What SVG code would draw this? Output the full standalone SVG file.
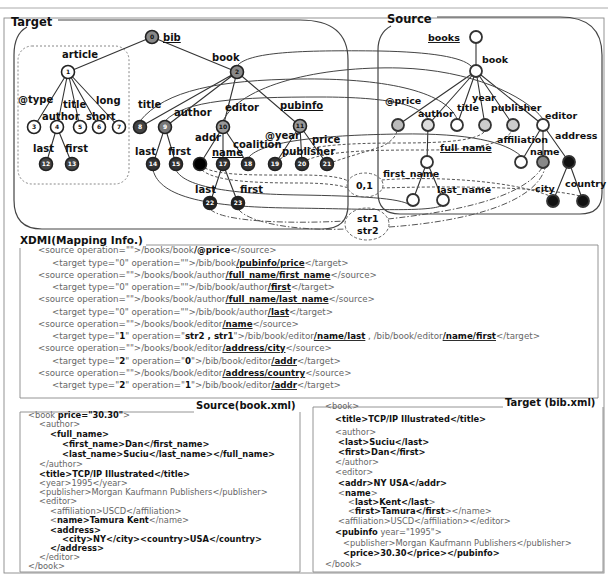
<svg xmlns="http://www.w3.org/2000/svg" width="608" height="577" viewBox="0 0 608 577">
<style>
.bg{fill:#fff}
.frame{fill:none;stroke:#888;stroke-width:0.9}
.reg{fill:none;stroke:#444;stroke-width:1.2}
.art{fill:none;stroke:#888;stroke-width:1;stroke-dasharray:2 2}
.e{stroke:#333;stroke-width:1.1;fill:none}
.c{stroke:#444;stroke-width:1;fill:none}
.d{stroke:#555;stroke-width:1;fill:none;stroke-dasharray:3 2}
.dd{stroke:#555;stroke-width:1;fill:none;stroke-dasharray:6 2 1.5 2}
.tn{stroke:#222;stroke-width:1.6}
.sn{stroke:#333;stroke-width:1.8}
.lt{font-family:"DejaVu Sans",sans-serif;font-weight:bold;font-size:10px;fill:#111}
.ls{font-family:"DejaVu Sans",sans-serif;font-weight:bold;font-size:9.5px;fill:#111}
.num{font-family:"DejaVu Sans",sans-serif;font-weight:bold;font-size:6px;text-anchor:middle}
.hd{font-family:"DejaVu Sans",sans-serif;font-weight:bold;font-size:11.5px;fill:#111}
.bh{font-family:"DejaVu Sans",sans-serif;font-weight:bold;font-size:10px;fill:#111}
.x{font-family:"DejaVu Sans",sans-serif;font-size:8.7px;fill:#666}
.y{font-family:"DejaVu Sans",sans-serif;font-size:8.3px;fill:#666}
.b{font-weight:bold;fill:#111}
.u{font-weight:bold;fill:#111;text-decoration:underline}
.ul{text-decoration:underline}
</style>
<rect class="bg" x="0" y="0" width="608" height="577"/>
<line x1="0" y1="8" x2="608" y2="8" stroke="#aaa" stroke-width="1"/>
<rect class="frame" x="4" y="18" width="600" height="555"/>

<!-- regions -->
<g id="target-region">
<path class="reg" d="M58,20 L300,20 Q348,20 348,60 L348,205 Q348,229 322,229 L42,229 Q14,229 14,200 L14,55 Q14,34 27,27"/>
<text class="hd" x="11" y="26">Target</text>
</g>
<g id="source-region">
<path class="reg" d="M437,17 L560,17 Q602,17 602,55 L602,193 Q602,214 580,214 L400,214 Q378,214 378,193 L378,50 Q378,33 391,26"/>
<text class="hd" x="387" y="23">Source</text>
</g>
<rect id="article-group" class="art" x="18" y="46" width="111" height="138" rx="14"/>

<!-- connectors -->
<g id="connectors">
<path class="e" d="M152,37 L68,72 M152,37 L237,72 M68,72 L34,127 M68,72 L57,127 M68,72 L80,127 M68,72 L99,127 M68,72 L119,127 M57,127 L46,164 M57,127 L72,164 M237,72 L140,127 M237,72 L165,127 M237,72 L223,127 M237,72 L300,126 M165,127 L153,164 M165,127 L176,164 M223,127 L200,164 M223,127 L223,164 M223,127 L248,164 M300,126 L275,164 M300,126 L302,164 M300,126 L327,164 M223,164 L210,203 M223,164 L238,203"/>
<path class="e" d="M476,37 L476,71 M476,71 L398,125 M476,71 L428,125 M476,71 L457,125 M476,71 L485,125 M476,71 L513,125 M476,71 L543,125 M428,125 L427,162 M427,162 L413,200 M427,162 L443,200 M543,125 L521,162 M543,125 L543,162 M543,125 L569,162 M569,162 L553,201 M569,162 L583,201"/>
<path class="c" d="M237,66 C248,52 300,50 380,51 C430,52 462,57 471,66"/>
<path class="c" d="M140,121 C165,90 220,80 300,79 C380,78 445,90 457,119"/>
<path class="c" d="M165,121 C185,100 240,97 320,97 C390,97 420,105 428,119"/>
<path class="c" d="M223,121 C240,85 320,66 400,68 C470,70 525,95 543,119"/>
<path class="c" d="M248,158 C262,140 330,135 400,134 C470,133 505,142 521,156"/>
<path class="c" d="M153,170 C160,198 210,207 290,208 C370,209 425,212 441,206"/>
<path class="c" d="M176,170 C185,188 235,194 300,195 C360,196 400,198 410,205"/>
<path class="d" d="M280,159 C300,146 340,143 400,143 C450,143 478,140 485,131"/>
<path class="d" d="M307,160 C330,150 380,150 430,150 C480,150 505,142 512,131"/>
<path class="d" d="M333,162 C350,156 372,150 383,146 C392,141 396,136 397,131"/>
<path class="d" d="M205,168 C220,176 260,175 300,175 C330,175 343,178 348,181"/>
<path class="d" d="M202,170 C215,182 260,183 300,183 C330,183 343,186 348,188"/>
<path class="d" d="M382,180 C430,176 510,180 550,196"/>
<path class="d" d="M382,188 C440,186 540,186 580,196"/>
<path class="dd" d="M210,209 C222,222 290,224 345,221"/>
<path class="dd" d="M238,209 C250,224 300,231 346,229"/>
<path class="dd" d="M388,219 C450,212 520,200 542,168"/>
<path class="dd" d="M389,227 C460,222 535,205 545,168"/>
</g>

<!-- operation nodes -->
<g id="op-01">
<ellipse cx="365" cy="185" rx="18" ry="12" fill="none" stroke="#666" stroke-width="1" stroke-dasharray="3 2"/>
<text class="ls" x="356" y="189">0,1</text>
</g>
<g id="op-str">
<ellipse cx="367" cy="224" rx="22" ry="16" fill="none" stroke="#666" stroke-width="1" stroke-dasharray="3 2"/>
<text class="ls" x="357" y="222">str1</text>
<text class="ls" x="357" y="234">str2</text>
</g>

<!-- target nodes -->
<g id="t0"><circle class="tn" cx="152" cy="37" r="6.5" fill="#888"/><text class="num" x="152" y="39" fill="#111">0</text><text class="lt ul" x="163" y="41">bib</text></g>
<g id="t1"><circle class="tn" cx="68" cy="72" r="6.5" fill="#fff"/><text class="num" x="68" y="74" fill="#111">1</text><text class="lt" x="62" y="58">article</text></g>
<g id="t2"><circle class="tn" cx="237" cy="72" r="6.5" fill="#888"/><text class="num" x="237" y="74" fill="#111">2</text><text class="lt" x="212" y="61">book</text></g>
<g id="t3"><circle class="tn" cx="34" cy="127" r="6.5" fill="#fff"/><text class="num" x="34" y="129" fill="#111">3</text><text class="lt" x="18" y="103">@type</text></g>
<g id="t4"><circle class="tn" cx="57" cy="127" r="6.5" fill="#fff"/><text class="num" x="57" y="129" fill="#111">4</text><text class="lt" x="42" y="120">author</text></g>
<g id="t5"><circle class="tn" cx="80" cy="127" r="6.5" fill="#fff"/><text class="num" x="80" y="129" fill="#111">5</text><text class="lt" x="63" y="108">title</text></g>
<g id="t6"><circle class="tn" cx="99" cy="127" r="6.5" fill="#fff"/><text class="num" x="99" y="129" fill="#111">6</text><text class="lt" x="86" y="120">short</text></g>
<g id="t7"><circle class="tn" cx="119" cy="127" r="6.5" fill="#fff"/><text class="num" x="119" y="129" fill="#111">7</text><text class="lt" x="96" y="104">long</text></g>
<g id="t12"><circle class="tn" cx="46" cy="164" r="6.5" fill="#444"/><text class="num" x="46" y="166" fill="#fff">12</text><text class="lt" x="33" y="152">last</text></g>
<g id="t13"><circle class="tn" cx="72" cy="164" r="6.5" fill="#444"/><text class="num" x="72" y="166" fill="#fff">13</text><text class="lt" x="65" y="152">first</text></g>
<g id="t8"><circle class="tn" cx="140" cy="127" r="6.5" fill="#444"/><text class="num" x="140" y="129" fill="#fff">8</text><text class="lt" x="138" y="108">title</text></g>
<g id="t9"><circle class="tn" cx="165" cy="127" r="6.5" fill="#777"/><text class="num" x="165" y="129" fill="#fff">9</text><text class="lt" x="174" y="116">author</text></g>
<g id="t10"><circle class="tn" cx="223" cy="127" r="6.5" fill="#999"/><text class="num" x="223" y="129" fill="#111">10</text><text class="lt" x="225" y="111">editor</text></g>
<g id="t11"><circle class="tn" cx="300" cy="126" r="6.5" fill="#999"/><text class="num" x="300" y="128" fill="#111">11</text><text class="lt ul" x="280" y="109">pubinfo</text></g>
<g id="t14"><circle class="tn" cx="153" cy="164" r="6.5" fill="#333"/><text class="num" x="153" y="166" fill="#fff">14</text><text class="lt" x="135" y="155">last</text></g>
<g id="t15"><circle class="tn" cx="176" cy="164" r="6.5" fill="#333"/><text class="num" x="176" y="166" fill="#fff">15</text><text class="lt" x="168" y="155">first</text></g>
<g id="t16"><circle class="tn" cx="200" cy="164" r="6.5" fill="#000"/><text class="lt" x="195" y="141">addr</text></g>
<g id="t17"><circle class="tn" cx="223" cy="164" r="6.5" fill="#333"/><text class="num" x="223" y="166" fill="#fff">17</text><text class="lt ul" x="212" y="156">name</text></g>
<g id="t18"><circle class="tn" cx="248" cy="164" r="6.5" fill="#333"/><text class="num" x="248" y="166" fill="#fff">18</text><text class="lt" x="233" y="148">coalition</text></g>
<g id="t19"><circle class="tn" cx="275" cy="164" r="6.5" fill="#333"/><text class="num" x="275" y="166" fill="#fff">19</text><text class="lt" x="265" y="139">@year</text></g>
<g id="t20"><circle class="tn" cx="302" cy="164" r="6.5" fill="#333"/><text class="num" x="302" y="166" fill="#fff">20</text><text class="lt" x="282" y="155">publisher</text></g>
<g id="t21"><circle class="tn" cx="327" cy="164" r="6.5" fill="#333"/><text class="num" x="327" y="166" fill="#fff">21</text><text class="lt" x="312" y="143">price</text></g>
<g id="t22"><circle class="tn" cx="210" cy="203" r="6.5" fill="#222"/><text class="num" x="210" y="205" fill="#fff">22</text><text class="lt" x="195" y="193">last</text></g>
<g id="t23"><circle class="tn" cx="238" cy="203" r="6.5" fill="#222"/><text class="num" x="238" y="205" fill="#fff">23</text><text class="lt" x="240" y="193">first</text></g>

<!-- source nodes -->
<g id="s-books"><circle class="sn" cx="476" cy="37" r="6" fill="#fff"/><text class="ls ul" x="428" y="41">books</text></g>
<g id="s-book"><circle class="sn" cx="476" cy="71" r="6" fill="#fff"/><text class="ls" x="482" y="63">book</text></g>
<g id="s-price"><circle class="sn" cx="398" cy="125" r="6" fill="#bbb"/><text class="ls" x="385" y="104">@price</text></g>
<g id="s-author"><circle class="sn" cx="428" cy="125" r="6" fill="#ddd"/><text class="ls" x="418" y="117">author</text></g>
<g id="s-title"><circle class="sn" cx="457" cy="125" r="6" fill="#fff"/><text class="ls" x="457" y="111">title</text></g>
<g id="s-year"><circle class="sn" cx="485" cy="125" r="6" fill="#ccc"/><text class="ls" x="472" y="101">year</text></g>
<g id="s-publisher"><circle class="sn" cx="513" cy="125" r="6" fill="#ccc"/><text class="ls" x="491" y="111">publisher</text></g>
<g id="s-editor"><circle class="sn" cx="543" cy="125" r="6" fill="#fff"/><text class="ls" x="545" y="119">editor</text></g>
<g id="s-full_name"><circle class="sn" cx="427" cy="162" r="6" fill="#fff"/><text class="ls ul" x="440" y="151">full_name</text></g>
<g id="s-first_name"><circle class="sn" cx="413" cy="200" r="6" fill="#fff"/><text class="ls" x="383" y="177">first_name</text></g>
<g id="s-last_name"><circle class="sn" cx="443" cy="200" r="6" fill="#fff"/><text class="ls" x="437" y="193">last_name</text></g>
<g id="s-affiliation"><circle class="sn" cx="521" cy="162" r="6" fill="#fff"/><text class="ls" x="497" y="143">affiliation</text></g>
<g id="s-name"><circle class="sn" cx="543" cy="162" r="6" fill="#888"/><text class="ls" x="530" y="155">name</text></g>
<g id="s-address"><circle class="sn" cx="569" cy="162" r="6" fill="#111"/><text class="ls" x="555" y="139">address</text></g>
<g id="s-city"><circle class="sn" cx="553" cy="201" r="6" fill="#111"/><text class="ls" x="535" y="192">city</text></g>
<g id="s-country"><circle class="sn" cx="583" cy="201" r="6" fill="#111"/><text class="ls" x="565" y="187">country</text></g>

<!-- XDMI -->
<g id="xdmi">
<path class="frame" d="M146,245 H598 V398 H20 V248" stroke="#555"/>
<text class="bh" x="20" y="244" style="font-size:10.5px">XDMI(Mapping Info.)</text>
<text class="x" x="38" y="253">&lt;source operation=""&gt;/books/book<tspan class="b">/@price</tspan>&lt;/source&gt;</text>
<text class="x" x="52" y="266">&lt;target type="0" operation=""&gt;/bib/book<tspan class="u">/pubinfo/price</tspan>&lt;/target&gt;</text>
<text class="x" x="38" y="278">&lt;source operation=""&gt;/books/book/author<tspan class="u">/full_name/first_name</tspan>&lt;/source&gt;</text>
<text class="x" x="52" y="290">&lt;target type="0" operation=""&gt;/bib/book/author<tspan class="u">/first</tspan>&lt;/target&gt;</text>
<text class="x" x="38" y="302">&lt;source operation=""&gt;/books/book/author<tspan class="u">/full_name/last_name</tspan>&lt;/source&gt;</text>
<text class="x" x="52" y="315">&lt;target type="0" operation=""&gt;/bib/book/author<tspan class="u">/last</tspan>&lt;/target&gt;</text>
<text class="x" x="38" y="327">&lt;source operation=""&gt;/books/book/editor<tspan class="u">/name</tspan>&lt;/source&gt;</text>
<text class="x" x="52" y="339">&lt;target type="<tspan class="b">1</tspan>" operation="<tspan class="b">str2 , str1</tspan>"&gt;/bib/book/editor<tspan class="u">/name/last</tspan> , /bib/book/editor<tspan class="u">/name/first</tspan>&lt;/target&gt;</text>
<text class="x" x="38" y="351">&lt;source operation=""&gt;/books/book/editor<tspan class="u">/address/city</tspan>&lt;/source&gt;</text>
<text class="x" x="52" y="364">&lt;target type="<tspan class="b">2</tspan>" operation="<tspan class="b">0</tspan>"&gt;/bib/book/editor<tspan class="u">/addr</tspan>&lt;/target&gt;</text>
<text class="x" x="38" y="376">&lt;source operation=""&gt;/books/book/editor<tspan class="u">/address/country</tspan>&lt;/source&gt;</text>
<text class="x" x="52" y="388">&lt;target type="<tspan class="b">2</tspan>" operation="<tspan class="b">1</tspan>"&gt;/bib/book/editor<tspan class="u">/addr</tspan>&lt;/target&gt;</text>
</g>

<!-- Source(book.xml) -->
<g id="source-xml">
<path class="frame" d="M194,412 H20 V572 H300 V412" stroke="#555"/>
<text class="bh" x="196" y="409">Source(book.xml)</text>
<text class="y" x="28" y="418">&lt;book <tspan class="b">price="30.30"</tspan>&gt;</text>
<text class="y" x="39" y="427">&lt;author&gt;</text>
<text class="y b" x="50" y="437">&lt;full_name&gt;</text>
<text class="y b" x="62" y="447">&lt;first_name&gt;Dan&lt;/first_name&gt;</text>
<text class="y b" x="62" y="457">&lt;last_name&gt;Suciu&lt;/last_name&gt;&lt;/full_name&gt;</text>
<text class="y" x="39" y="467">&lt;/author&gt;</text>
<text class="y b" x="39" y="477">&lt;title&gt;TCP/IP Illustrated&lt;/title&gt;</text>
<text class="y" x="39" y="486">&lt;year&gt;1995&lt;/year&gt;</text>
<text class="y" x="39" y="495">&lt;publisher&gt;Morgan Kaufmann Publishers&lt;/publisher&gt;</text>
<text class="y" x="39" y="504">&lt;editor&gt;</text>
<text class="y" x="50" y="514">&lt;affiliation&gt;USCD&lt;/affiliation&gt;</text>
<text class="y" x="50" y="523">&lt;<tspan class="b">name&gt;Tamura Kent</tspan>&lt;/name&gt;</text>
<text class="y b" x="50" y="533">&lt;address&gt;</text>
<text class="y b" x="62" y="542">&lt;city&gt;NY&lt;/city&gt;&lt;country&gt;USA&lt;/country&gt;</text>
<text class="y b" x="50" y="551">&lt;/address&gt;</text>
<text class="y" x="39" y="560">&lt;/editor&gt;</text>
<text class="y" x="28" y="569">&lt;/book&gt;</text>
</g>

<!-- Target(bib.xml) -->
<g id="target-xml">
<path class="frame" d="M503,407 H313 V572 H603 V407" stroke="#555"/>
<text class="bh" x="505" y="406">Target (bib.xml)</text>
<text class="y" x="325" y="409">&lt;book&gt;</text>
<text class="y b" x="335" y="422">&lt;title&gt;TCP/IP Illustrated&lt;/title&gt;</text>
<text class="y" x="335" y="435">&lt;author&gt;</text>
<text class="y b" x="338" y="445">&lt;last&gt;Suciu&lt;/last&gt;</text>
<text class="y b" x="338" y="455">&lt;first&gt;Dan&lt;/first&gt;</text>
<text class="y" x="335" y="465">&lt;/author&gt;</text>
<text class="y" x="335" y="475">&lt;editor&gt;</text>
<text class="y b" x="338" y="486">&lt;addr&gt;NY USA&lt;/addr&gt;</text>
<text class="y" x="338" y="496">&lt;<tspan class="b">name</tspan>&gt;</text>
<text class="y" x="348" y="505">&lt;<tspan class="b">last&gt;Kent&lt;/last</tspan>&gt;</text>
<text class="y" x="348" y="514">&lt;<tspan class="b">first&gt;Tamura&lt;/first</tspan>&gt;&lt;/name&gt;</text>
<text class="y" x="338" y="524">&lt;affiliation&gt;USCD&lt;/affiliation&gt;&lt;/editor&gt;</text>
<text class="y" x="335" y="535"><tspan class="b">&lt;pubinfo</tspan> year="1995"&gt;</text>
<text class="y" x="343" y="546">&lt;publisher&gt;Morgan Kaufmann Publishers&lt;/publisher&gt;</text>
<text class="y b" x="343" y="556">&lt;price&gt;30.30&lt;/price&gt;&lt;/pubinfo&gt;</text>
<text class="y" x="325" y="567">&lt;/book&gt;</text>
</g>
</svg>
